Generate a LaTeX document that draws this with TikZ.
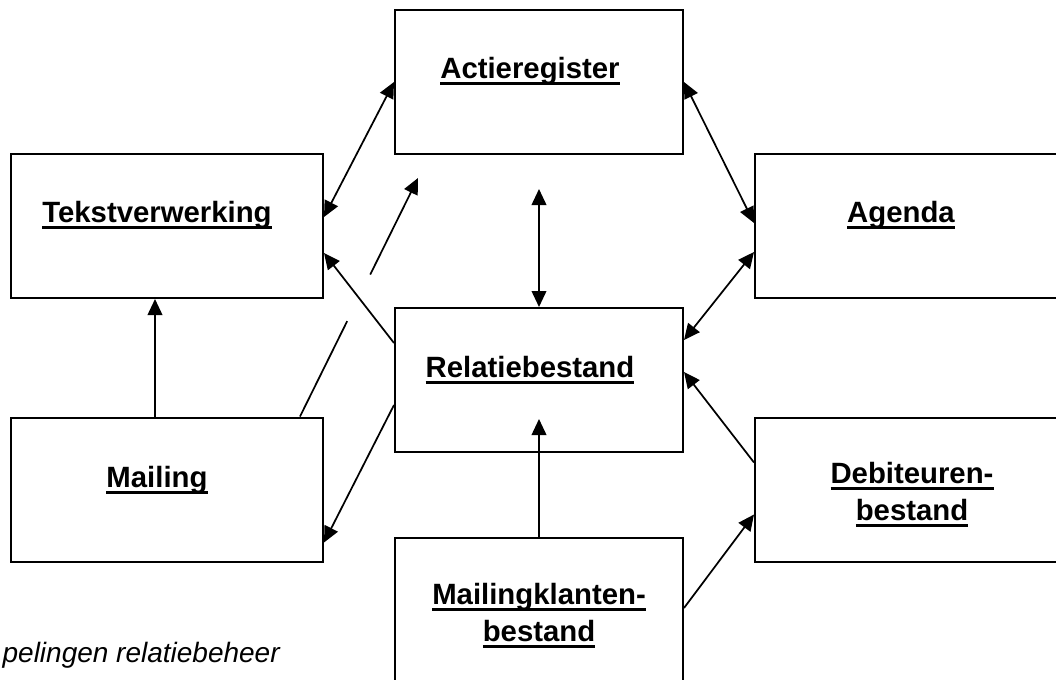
\documentclass[tikz,border=0pt]{standalone}
\usepackage{fontspec}
\setmainfont{Liberation Sans}
\usetikzlibrary{arrows.meta,calc}
\newcommand{\ulword}[1]{\setbox0\hbox{#1}\rlap{\rule[-5.5pt]{\wd0}{2.8pt}}\box0}

\begin{document}
\begin{tikzpicture}[x=0.75pt, y=-0.75pt,
    blok/.style={draw, line width=1.5pt, minimum width=#1, minimum height=108pt, inner sep=0pt},
    titel/.style={font=\bfseries\fontsize{22}{27.75}\selectfont, align=center, anchor=base, inner sep=0pt},
    lijn/.style={line width=1.3pt},
    pijl/.style={line width=1.3pt, -{Triangle[length=12pt,width=11pt]}},
    tweepijl/.style={line width=1.3pt, {Triangle[length=12pt,width=11pt]}-{Triangle[length=12pt,width=11pt]}}]
  \useasboundingbox (0,0) rectangle (1056,679);
  \clip (0,0) rectangle (1056,679);
  % blokken
  \node (act)[blok=216pt] at (539,82) {};
  \node (tekst)[blok=234pt] at (167,226) {};
  \node (agenda)[blok=234pt] at (911,226) {};
  \node (rel)[blok=216pt] at (539,380) {};
  \node (mailing)[blok=234pt] at (167,489.5) {};
  \node (debit)[blok=234pt] at (911,489.5) {};
  \node (mkl)[blok=216pt] at (539,610) {};
  % namen
  \node (actT)[titel] at (530,78) {\ulword{Actieregister}};
  \node (tekstT)[titel] at (157,222) {\ulword{Tekstverwerking}};
  \node (agendaT)[titel] at (901,222) {\ulword{Agenda}};
  \node (relT)[titel] at (530,377) {\ulword{Relatiebestand}};
  \node (mailingT)[titel] at (157,487) {\ulword{Mailing}};
  \node (debitT)[titel] at (912,520) {\ulword{Debiteuren-}\\\ulword{bestand}};
  \node (mklT)[titel] at (539,641) {\ulword{Mailingklanten-}\\\ulword{bestand}};
  % koppelingen
  \draw[tweepijl] ($(tekst.east)+(0,-9)$) -- (act.west);
  \draw[tweepijl] (act.east) -- ($(agenda.west)+(0,-3)$);
  \coordinate (actonder) at ($(act.south)+(0,34)$);
  \draw[tweepijl] (actonder) -- (rel.north);
  \draw[pijl] ($(rel.west)+(0,-37)$) -- ($(tekst.east)+(0,27)$);
  \draw[pijl] ($(rel.west)+(0,25)$) -- ($(mailing.east)+(0,53)$);
  \draw[pijl] ($(mailing.north)+(-12,0)$) -- ($(tekst.south)+(-12,0)$);
  % onderbroken pijl
  \coordinate (mlvan) at ($(mailing.north)+(133,0)$);
  \coordinate (mlnaar) at (418,178);
  \draw[lijn] (mlvan) -- ($(mlvan)!0.4!(mlnaar)$);
  \draw[pijl] ($(mlvan)!0.595!(mlnaar)$) -- (mlnaar);
  \draw[tweepijl] ($(agenda.west)+(0,26)$) -- ($(rel.east)+(0,-40)$);
  \draw[pijl] ($(debit.west)+(0,-27)$) -- ($(rel.east)+(0,-8)$);
  \draw[pijl] ($(mkl.east)+(0,-2)$) -- ($(debit.west)+(0,25)$);
  \coordinate (relonder) at ($(rel.south)+(0,-34)$);
  \draw[pijl] (mkl.north) -- (relonder);
  % bijschrift
  \node (bijschrift)[font=\itshape\fontsize{21}{25}\selectfont, anchor=base east, inner sep=0pt] at (280,662) {pelingen relatiebeheer};
\end{tikzpicture}
\end{document}
